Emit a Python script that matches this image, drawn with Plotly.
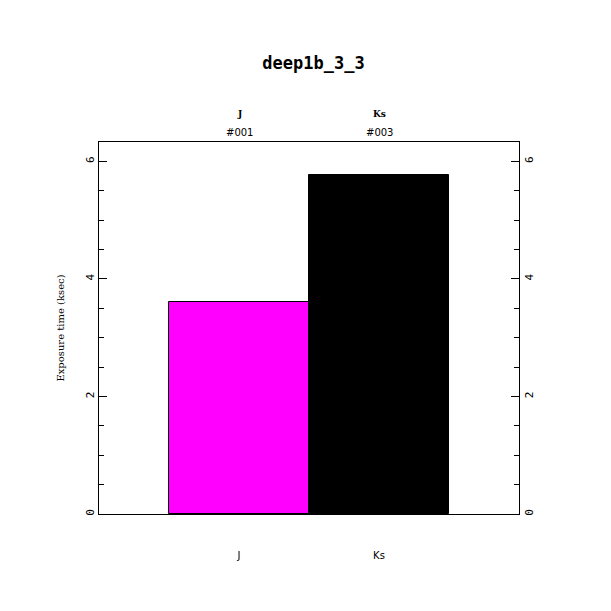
import plotly.graph_objects as go

filters = ["J", "Ks"]
frame_ids = ["#001", "#003"]
exposure_ksec = [3.61, 5.77]
bar_colors = ["#ff00ff", "#000000"]
y_ticks = [0, 2, 4, 6]

# page offset compensation (body margin)
OFF = 7
L, R, T, B = 98 - OFF, 93 + OFF, 141 - OFF, 98 + OFF
W = H = 611
plot_bottom = H - B  # in figure coords
plot_h = H - T - B

fig = go.Figure()
fig.add_trace(go.Bar(
    x=[0, 1], y=exposure_ksec, width=1,
    marker=dict(color=bar_colors, line=dict(color="black", width=1)),
    showlegend=False,
))
fig.add_trace(go.Scatter(x=[0], y=[0], yaxis="y2", mode="markers",
                         marker=dict(opacity=0), showlegend=False, hoverinfo="skip"))

yax = dict(range=[0, 6.33], tickvals=y_ticks, ticktext=[str(v) for v in y_ticks],
           ticks="inside", ticklen=8, tickcolor="black", tickwidth=1,
           minor=dict(dtick=0.5, ticks="inside", ticklen=5, tickcolor="black"),
           showgrid=False, zeroline=False, tickangle=-90,
           tickfont=dict(family="DejaVu Sans Mono", size=11, color="black"),
           showline=True, linecolor="black", linewidth=1)

fig.update_layout(
    width=W, height=H,
    margin=dict(l=L, r=R, t=T, b=B),
    plot_bgcolor="white", paper_bgcolor="white",
    title=dict(text="<b>deep1b_3_3</b>", x=0.5, xanchor="center", y=1 - (62 - OFF) / H, yanchor="middle",
               font=dict(family="DejaVu Sans Mono", size=17, color="black")),
    xaxis=dict(range=[-1, 2], tickvals=[0, 1], ticktext=filters, ticks="",
               showgrid=False, zeroline=False, showline=True, linecolor="black", mirror=True,
               ticklabelstandoff=32,
               tickfont=dict(family="DejaVu Sans", size=10, color="black")),
    yaxis=dict(**yax, side="left",
               title=dict(text="Exposure time (ksec)", standoff=17,
                          font=dict(family="DejaVu Serif", size=10, color="black"))),
    yaxis2=dict(**yax, side="right", overlaying="y"),
    bargap=0,
)

for i, (f, fid) in enumerate(zip(filters, frame_ids)):
    fig.add_annotation(x=i, y=(plot_bottom - (113 - OFF)) / plot_h, xref="x", yref="paper",
                       text="<b>" + f + "</b>", showarrow=False, yanchor="middle",
                       font=dict(family="DejaVu Serif", size=9, color="black"))
    fig.add_annotation(x=i, y=(plot_bottom - (131 - OFF)) / plot_h, xref="x", yref="paper",
                       text=fid, showarrow=False, yanchor="middle",
                       font=dict(family="DejaVu Sans", size=10, color="black"))

fig.write_html("out.html")
